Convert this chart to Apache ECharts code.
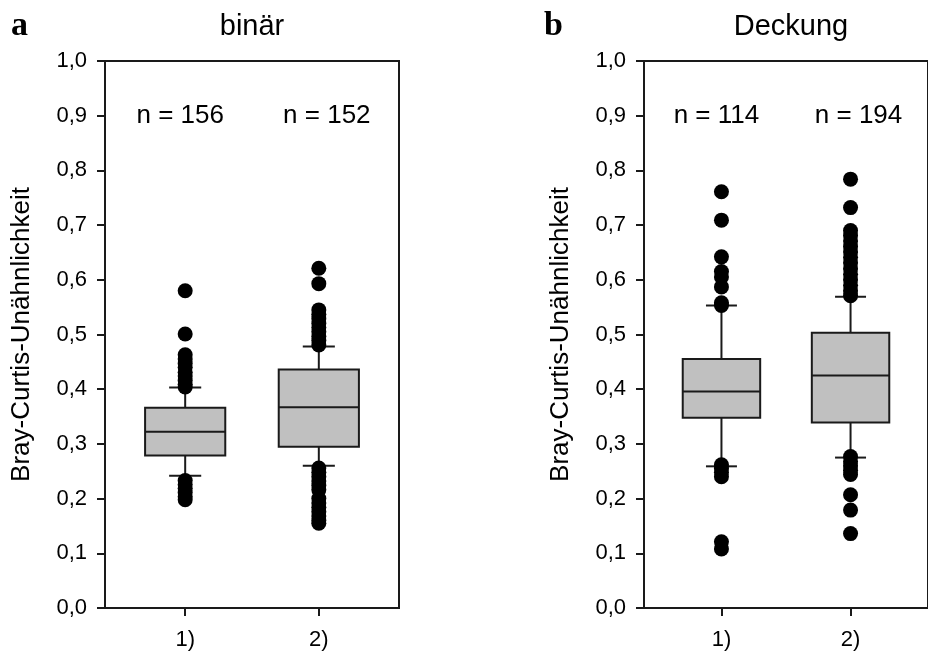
<!DOCTYPE html>
<html><head><meta charset="utf-8">
<script src="https://cdn.jsdelivr.net/npm/echarts@6/dist/echarts.min.js"></script>
<style>html,body{margin:0;padding:0;background:#fff}#c{width:928px;height:654px}</style>
</head><body><div id="c"></div>
<script>
// ---- data ----
const categories = ['1)', '2)'];
const panelLetters = ['a', 'b'];
const panelTitles = ['binär', 'Deckung'];
const yAxisName = 'Bray-Curtis-Unähnlichkeit';
const nA = [156, 152];
const nB = [114, 194];
// [lower whisker, Q1, median, Q3, upper whisker]
const boxA1 = [0.242, 0.279, 0.322, 0.366, 0.403];
const boxA2 = [0.260, 0.295, 0.367, 0.436, 0.478];
const boxB1 = [0.259, 0.348, 0.396, 0.455, 0.553];
const boxB2 = [0.275, 0.339, 0.425, 0.503, 0.569];
const outA1 = [0.580, 0.501, 0.463, 0.455, 0.447, 0.440, 0.431, 0.424, 0.416, 0.409, 0.404,
               0.233, 0.226, 0.219, 0.211, 0.204, 0.198];
const outA2 = [0.621, 0.593, 0.545, 0.537, 0.529, 0.520, 0.513, 0.505, 0.497, 0.489, 0.481,
               0.256, 0.248, 0.240, 0.232, 0.224, 0.216, 0.200, 0.192, 0.184, 0.176, 0.168, 0.160, 0.155];
const outB1 = [0.761, 0.709, 0.642, 0.615, 0.605, 0.587, 0.558, 0.553,
               0.262, 0.255, 0.248, 0.240, 0.121, 0.108];
const outB2 = [0.784, 0.732, 0.690, 0.681, 0.671, 0.661, 0.651, 0.641, 0.631, 0.620, 0.610, 0.600, 0.590, 0.580, 0.571,
               0.277, 0.268, 0.260, 0.252, 0.244, 0.207, 0.179, 0.136];

// ---- build ----
const FONT = '"Liberation Sans", Arial, sans-serif';
const INK = '#1a1a1a';
const chart = echarts.init(document.getElementById('c'), null, {renderer: 'canvas'});

const gridDefs = [{left: 105, top: 61, width: 294, height: 547},
                  {left: 644, top: 61, width: 294, height: 547}];

function boxRender(params, api) {
  const x = api.value(0);
  const lo = api.coord([x, api.value(1)]);
  const q1 = api.coord([x, api.value(2)]);
  const md = api.coord([x, api.value(3)]);
  const q3 = api.coord([x, api.value(4)]);
  const hi = api.coord([x, api.value(5)]);
  const half = api.size([0.3, 0])[0];
  const cap = api.size([0.12, 0])[0];
  const cx = lo[0];
  const ls = {stroke: INK, lineWidth: 2};
  return {type: 'group', children: [
    {type: 'line', shape: {x1: cx, y1: lo[1], x2: cx, y2: q1[1]}, style: ls},
    {type: 'line', shape: {x1: cx, y1: q3[1], x2: cx, y2: hi[1]}, style: ls},
    {type: 'line', shape: {x1: cx - cap, y1: lo[1], x2: cx + cap, y2: lo[1]}, style: ls},
    {type: 'line', shape: {x1: cx - cap, y1: hi[1], x2: cx + cap, y2: hi[1]}, style: ls},
    {type: 'rect', shape: {x: cx - half, y: q3[1], width: 2 * half, height: q1[1] - q3[1]},
     style: {fill: '#c0c0c0', stroke: INK, lineWidth: 2}},
    {type: 'line', shape: {x1: cx - half, y1: md[1], x2: cx + half, y2: md[1]}, style: ls}
  ]};
}

function boxData(b1, b2) { return [[1].concat(b1), [2].concat(b2)]; }
function outData(o1, o2) { return o1.map(v => [1, v]).concat(o2.map(v => [2, v])); }

const nOffsets = [-5, 8];
function nData(ns) { return ns.map((n, i) => ({value: [i + 1, 0.9], label: {offset: [nOffsets[i], 0]}, name: 'n = ' + n})); }

const xAxes = [0, 1].map(i => ({
  gridIndex: i, type: 'value', min: 0.4, max: 2.6,
  axisLine: {show: true, onZero: false, lineStyle: {color: INK, width: 2}},
  axisTick: {show: true, length: 8, customValues: [1, 2], lineStyle: {color: INK, width: 2}},
  axisLabel: {show: true, customValues: [1, 2], formatter: v => categories[Math.round(v) - 1],
              fontFamily: FONT, fontSize: 22, color: '#000', margin: 21},
  splitLine: {show: false}
}));
const yAxes = [0, 1].map(i => ({
  gridIndex: i, type: 'value', min: 0, max: 1, interval: 0.1,
  name: yAxisName, nameLocation: 'middle', nameRotate: 90, nameGap: 70,
  nameTextStyle: {fontFamily: FONT, fontSize: 26, color: '#000'},
  axisLine: {show: true, lineStyle: {color: INK, width: 2}},
  axisTick: {show: true, length: 8, lineStyle: {color: INK, width: 2}},
  axisLabel: {formatter: v => v.toFixed(1).replace('.', ','), fontFamily: FONT, fontSize: 22, color: '#000', margin: 18},
  splitLine: {show: false}
}));

const series = [];
[[boxA1, boxA2, outA1, outA2, nA], [boxB1, boxB2, outB1, outB2, nB]].forEach((p, i) => {
  series.push({type: 'custom', xAxisIndex: i, yAxisIndex: i, renderItem: boxRender,
               data: boxData(p[0], p[1]), z: 2, silent: true, clip: false});
  series.push({type: 'scatter', xAxisIndex: i, yAxisIndex: i, symbol: 'circle', symbolSize: 15,
               itemStyle: {color: '#000', opacity: 1}, data: outData(p[2], p[3]), z: 5, silent: true});
  series.push({type: 'scatter', xAxisIndex: i, yAxisIndex: i, symbolSize: 0, data: nData(p[4]), z: 6, silent: true,
               itemStyle: {opacity: 1},
               label: {show: true, position: 'inside', formatter: d => d.name, fontFamily: FONT, fontSize: 26, color: '#000', opacity: 1}});
});

const graphics = [];
panelLetters.forEach((t, i) => {
  graphics.push({type: 'text', x: [11, 544][i], y: 9,
    style: {text: t, font: 'bold 34px "Liberation Serif", "Times New Roman", serif', fill: '#000'}});
});
panelTitles.forEach((t, i) => {
  graphics.push({type: 'text', x: gridDefs[i].left + gridDefs[i].width / 2, y: 12,
    style: {text: t, font: '29px ' + FONT, fill: '#000', textAlign: 'center'}});
});

chart.setOption({
  animation: false,
  backgroundColor: '#fff',
  grid: gridDefs.map(g => Object.assign({show: true, borderColor: INK, borderWidth: 2, backgroundColor: 'transparent', containLabel: false}, g)),
  xAxis: xAxes,
  yAxis: yAxes,
  series: series,
  graphic: graphics
});
</script></body></html>
